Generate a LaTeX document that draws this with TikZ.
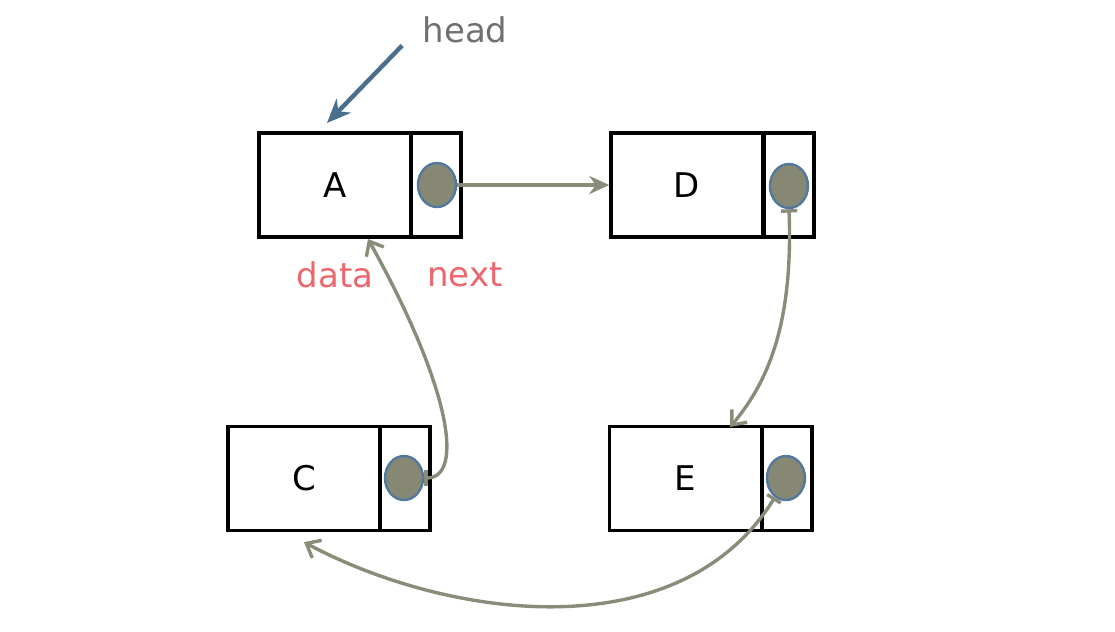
\documentclass[tikz,border=0pt]{standalone}
\usepackage{fontspec}
\setmainfont{DejaVu Sans}
\usepackage{tikz}
\usetikzlibrary{shapes.geometric,arrows.meta}
\definecolor{linkgray}{RGB}{136,141,122}
\definecolor{dotfill}{RGB}{134,136,116}
\definecolor{dotedge}{RGB}{82,120,158}
\definecolor{headblue}{RGB}{74,110,142}
\definecolor{headtext}{RGB}{112,112,112}
\definecolor{labelred}{RGB}{236,102,108}

\begin{document}
\begin{tikzpicture}[x=0.5pt,y=-0.5pt,>=Stealth,
  datapart/.style={draw,line width=1.7pt,minimum width=76pt,minimum height=52pt,inner sep=0pt,font=\fontsize{17}{20}\selectfont},
  nextpart/.style={draw,line width=1.7pt,minimum width=25pt,minimum height=52pt,inner sep=0pt},
  dot/.style={ellipse,draw=dotedge,line width=1.2pt,fill=dotfill,minimum width=19pt,minimum height=22pt,inner sep=0pt},
  link/.style={draw=linkgray,line width=1.7pt},
  tag/.style={font=\fontsize{17}{20}\selectfont,inner sep=0pt}]
\useasboundingbox (0,0) rectangle (1115,632);
% boxes
\node[datapart] (dA) at (335,185) {A};
\node[nextpart] (pA) at (436,185) {};
\node[datapart] (dD) at (687,185) {D};
\node[nextpart] (pD) at (789,185) {};
\node[datapart] (dC) at (304,478.5) {C};
\node[nextpart] (pC) at (405,478.5) {};
\node[datapart] (dE) at (685.5,478.5) {E};
\node[nextpart] (pE) at (787,478.5) {};
% pointers
\node[dot] (cA) at (437,185) {};
\node[dot] (cD) at (789,186) {};
\node[dot] (cC) at (404,478) {};
\node[dot] (cE) at (786,478) {};
% labels
\node[tag,text=headtext] (head) at (465,30) {head};
\node[tag,text=labelred] (lData) at (335,275) {data};
\node[tag,text=labelred] (lNext) at (465,275) {next};
\coordinate (hT) at (327,123);
\coordinate (aIn) at (368,239);
\coordinate (eIn) at (730,427);
\draw[draw=headblue,line width=2.2pt,-{Stealth[length=12pt,width=10pt]}] ([shift={(-20,2)}]head.south west) -- (hT);
% links
\draw[link,-{Stealth[length=10pt,width=9pt]}] (cA.east) -- (dD.west);
\draw[link,{Bar[width=8pt]}-{Straight Barb[length=6pt,width=10pt]}] (cD.south) .. controls (793,320) and (770,380) .. (eIn);
\draw[link,{Bar[width=8pt]}-{Straight Barb[length=6pt,width=10pt]}] (cC.east) .. controls (464,478) and (452,390) .. (aIn);
\draw[link,{Bar[width=8pt]}-{Straight Barb[length=6pt,width=10pt]}] (cE.-120) .. controls (680,650) and (450,620) .. ([yshift=-5]dC.south);
\end{tikzpicture}
\end{document}
